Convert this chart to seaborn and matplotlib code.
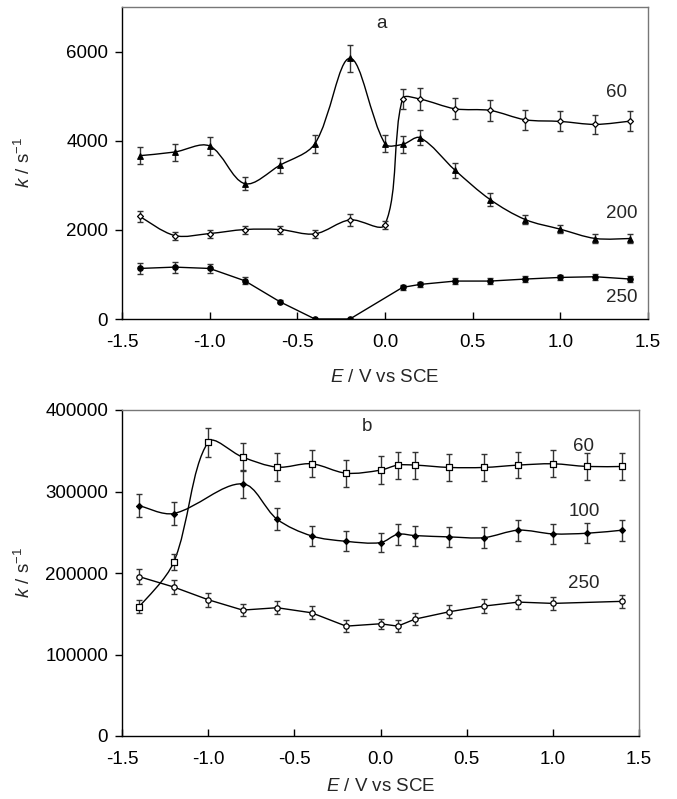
import numpy as np
import pandas as pd
import matplotlib
matplotlib.use("Agg")
import matplotlib.pyplot as plt
from matplotlib.path import Path
from matplotlib.patches import PathPatch
import seaborn as sns

# ---------------- data: panel a ----------------
a60_x = [-1.4, -1.2, -1.0, -0.8, -0.6, -0.4, -0.2, 0.0, 0.1, 0.2, 0.4, 0.6, 0.8, 1.0, 1.2, 1.4]
a60_y = [2306, 1873, 1918, 2007, 2007, 1910, 2224, 2119, 4940, 4933, 4716, 4679, 4470, 4433, 4366, 4440]
a60_e = [125, 90, 90, 90, 90, 90, 135, 90, 225, 250, 235, 235, 230, 225, 220, 220]

a200_x = [-1.4, -1.2, -1.0, -0.8, -0.6, -0.4, -0.2, 0.0, 0.1, 0.2, 0.4, 0.6, 0.8, 1.0, 1.2, 1.4]
a200_y = [3664, 3746, 3881, 3037, 3448, 3933, 5851, 3933, 3918, 4067, 3336, 2679, 2231, 2015, 1806, 1806]
a200_e = [187, 190, 200, 150, 170, 200, 300, 195, 195, 170, 170, 145, 110, 95, 90, 90]

a250_x = [-1.4, -1.2, -1.0, -0.8, -0.6, -0.4, -0.2, 0.1, 0.2, 0.4, 0.6, 0.8, 1.0, 1.2, 1.4]
a250_y = [1134, 1164, 1134, 858, 388, 0, 0, 709, 776, 851, 851, 896, 933, 948, 896]
a250_e = [125, 125, 110, 80, 30, 0, 0, 60, 60, 60, 60, 60, 65, 65, 60]

# ---------------- data: panel b ----------------
b60_x = [-1.4, -1.2, -1.0, -0.8, -0.6, -0.4, -0.2, 0.0, 0.1, 0.2, 0.4, 0.6, 0.8, 1.0, 1.2, 1.4]
b60_y = [158600, 213100, 360700, 342200, 329900, 334000, 322500, 326200, 332400, 332400,
         329500, 329500, 332400, 334000, 330700, 330700]
b60_e = [7800, 9600, 17800, 17400, 17000, 16400, 16400, 16800, 16600, 16600,
         16400, 16400, 16400, 16400, 16400, 16400]

b100_x = [-1.4, -1.2, -0.8, -0.6, -0.4, -0.2, 0.0, 0.1, 0.2, 0.4, 0.6, 0.8, 1.0, 1.2, 1.4]
b100_y = [282800, 273000, 309400, 266000, 245500, 238900, 237300, 247500, 245900,
          244300, 243400, 252500, 248000, 248800, 252500]
b100_e = [14100, 13700, 16800, 13700, 12700, 12300, 11700, 12700, 12300,
          12700, 12500, 12900, 12500, 12500, 12900]

b250_x = [-1.4, -1.2, -1.0, -0.8, -0.6, -0.4, -0.2, 0.0, 0.1, 0.2, 0.4, 0.6, 0.8, 1.0, 1.4]
b250_y = [195500, 182800, 167200, 154500, 157400, 151200, 134800, 137700, 134800,
          143400, 152500, 159400, 164300, 162700, 165200]
b250_e = [9400, 8800, 8800, 7600, 8200, 7800, 7200, 6400, 7000, 7200, 7800, 8200,
          8400, 8200, 8400]

x_ticks = [-1.5, -1.0, -0.5, 0.0, 0.5, 1.0, 1.5]
a_yticks = [0, 2000, 4000, 6000]
b_yticks = [0, 100000, 200000, 300000, 400000]

# ---------------- style ----------------
sns.set_theme(style="white")
plt.rcParams["font.family"] = ["Liberation Sans", "DejaVu Sans"]
plt.rcParams["axes.unicode_minus"] = False
plt.rcParams["mathtext.fontset"] = "custom"
plt.rcParams["mathtext.rm"] = "Liberation Sans"
plt.rcParams["mathtext.it"] = "Liberation Sans:italic"

FS = 13.5
fig = plt.figure(figsize=(6.77, 7.99), dpi=100)
ax_a = fig.add_axes([122 / 677, 1 - 319 / 799, 526 / 677, 312 / 799])
ax_b = fig.add_axes([122 / 677, 1 - 736 / 799, 517 / 677, 326 / 799])
ax_a.set_xlim(-1.5, 1.5)
ax_a.set_ylim(0, 7000)
ax_b.set_xlim(-1.5, 1.5)
ax_b.set_ylim(0, 400000)


def smooth_curve(ax, xs, ys, **kw):
    """Smoothed line (chord-scaled Catmull-Rom) drawn as a cubic Bezier path."""
    P = np.column_stack([xs, ys]).astype(float)
    D = ax.transData.transform(P)  # display coords for chord lengths
    n = len(P)
    d = np.hypot(*(D[1:] - D[:-1]).T)
    verts = [tuple(P[0])]
    codes = [Path.MOVETO]

    def tangent(i):
        if i == 0:
            return (P[1] - P[0]) / max(d[0], 1e-9)
        if i == n - 1:
            return (P[-1] - P[-2]) / max(d[-1], 1e-9)
        return (P[i + 1] - P[i - 1]) / max(d[i - 1] + d[i], 1e-9)

    for i in range(n - 1):
        c1 = P[i] + tangent(i) * d[i] / 3.0
        c2 = P[i + 1] - tangent(i + 1) * d[i] / 3.0
        if i == 0:
            c1 = P[i] + (P[i + 1] - P[i]) / 6.0
        if i == n - 2:
            c2 = P[i + 1] - (P[i + 1] - P[i]) / 6.0
        verts += [tuple(c1), tuple(c2), tuple(P[i + 1])]
        codes += [Path.CURVE4] * 3
    patch = PathPatch(Path(verts, codes), facecolor="none", transform=ax.transData, **kw)
    ax.add_patch(patch)


def straight_line(ax, xs, ys):
    df = pd.DataFrame({"x": xs, "y": ys})
    sns.lineplot(data=df, x="x", y="y", ax=ax, color="black", lw=1.0,
                 sort=False, estimator=None, zorder=2)


def markers(ax, xs, ys, es, marker, size, filled):
    ax.errorbar(xs, ys, yerr=es, fmt="none", ecolor="#333333", elinewidth=1.0,
                capsize=2.0, capthick=1.0, zorder=3)
    df = pd.DataFrame({"x": xs, "y": ys})
    sns.scatterplot(data=df, x="x", y="y", ax=ax, marker=marker, s=size,
                    color="black" if filled else "white",
                    edgecolor="black", linewidth=0.9, zorder=4, legend=False)


# panel a
smooth_curve(ax_a, a60_x, a60_y, edgecolor="black", lw=1.0, zorder=2)
smooth_curve(ax_a, a200_x, a200_y, edgecolor="black", lw=1.0, zorder=2)
straight_line(ax_a, a250_x, a250_y)
markers(ax_a, a200_x, a200_y, a200_e, "^", 16, True)
markers(ax_a, a60_x, a60_y, a60_e, "D", 9, False)
markers(ax_a, a250_x, a250_y, a250_e, "o", 15, True)

# panel b
smooth_curve(ax_b, b60_x, b60_y, edgecolor="black", lw=1.0, zorder=2)
smooth_curve(ax_b, b100_x, b100_y, edgecolor="black", lw=1.0, zorder=2)
straight_line(ax_b, b250_x, b250_y)
markers(ax_b, b60_x, b60_y, b60_e, "s", 13, False)
markers(ax_b, b100_x, b100_y, b100_e, "D", 9, True)
markers(ax_b, b250_x, b250_y, b250_e, "o", 15, False)

for ax, ylim, yt, w, h, xl_y in [(ax_a, (0, 7000), a_yticks, 526, 312, -0.16),
                                 (ax_b, (0, 400000), b_yticks, 517, 326, -0.13)]:
    ax.set_xlim(-1.5, 1.5)
    ax.set_ylim(*ylim)
    ax.set_xticks(x_ticks)
    ax.set_xticklabels([f"{v:.1f}" for v in x_ticks])
    ax.set_yticks(yt)
    ax.set_yticklabels([str(v) for v in yt])
    ax.tick_params(axis="x", direction="in", length=5, width=1, colors="black",
                   labelsize=FS, pad=11, bottom=True)
    ax.tick_params(axis="y", direction="out", length=5, width=1, colors="black",
                   labelsize=FS, pad=5, left=True)
    for s in ["left", "bottom"]:
        ax.spines[s].set_color("black")
        ax.spines[s].set_linewidth(1.0)
    for s in ["top", "right"]:
        ax.spines[s].set_color("#777777")
        ax.spines[s].set_linewidth(1.0)
    ax.set_xlabel(r"$\mathit{E}$ / V vs SCE", fontsize=FS)
    ax.set_ylabel(r"$\mathit{k}$ / s$^{-1}$", fontsize=FS)
    ax.xaxis.set_label_coords(0.5, xl_y)
    ax.yaxis.set_label_coords((34 - 122) / w, 0.5)

# annotations
ax_a.text(-0.02, 6630, "a", fontsize=FS, ha="center", va="center")
ax_a.text(1.32, 5085, "60", fontsize=FS, ha="center", va="center")
ax_a.text(1.35, 2374, "200", fontsize=FS, ha="center", va="center")
ax_a.text(1.35, 493, "250", fontsize=FS, ha="center", va="center")

ax_b.text(-0.08, 379700, "b", fontsize=FS, ha="center", va="center")
ax_b.text(1.18, 355000, "60", fontsize=FS, ha="center", va="center")
ax_b.text(1.18, 275000, "100", fontsize=FS, ha="center", va="center")
ax_b.text(1.18, 187600, "250", fontsize=FS, ha="center", va="center")

fig.savefig("out.png", dpi=100)
